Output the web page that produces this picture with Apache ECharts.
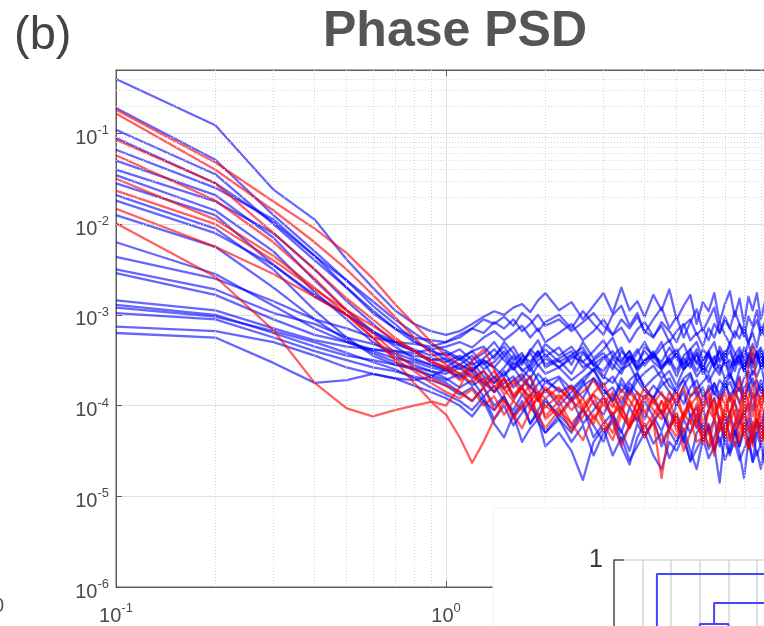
<!DOCTYPE html>
<html>
<head>
<meta charset="utf-8">
<title>Phase PSD</title>
<script src="https://cdn.jsdelivr.net/npm/echarts@6/dist/echarts.min.js"></script>
<style>
  html, body { margin: 0; padding: 0; background: #fff; overflow: hidden; }
  /* the panel is wider/taller than the window: the reference is a crop */
  #chart { width: 900px; height: 800px; }
</style>
</head>
<body>
<div id="chart"></div>
<script>
// frequency bins (Hz)
const freqs = [0.1, 0.2, 0.3, 0.4, 0.5, 0.6, 0.7, 0.8, 0.9, 1.0,
  1.1, 1.2, 1.3, 1.4, 1.5, 1.6, 1.7, 1.8, 1.9, 2.0,
  2.2, 2.4, 2.6, 2.8, 3.0, 3.2, 3.4, 3.6, 3.8, 4.0,
  4.25, 4.5, 4.75, 5.0, 5.25, 5.5, 5.75, 6.0, 6.25, 6.5, 6.75, 7.0, 7.25, 7.5, 7.75, 8.0,
  8.25, 8.5, 8.75, 9.0, 9.25, 9.5, 9.75, 10.0];

// PSD curves as log10(value)
const blue01 = [-0.40, -0.91, -1.62, -1.95, -2.39, -2.70, -2.95, -3.10, -3.18, -3.22,
  -3.18, -3.10, -3.02, -2.96, -3.00, -2.92, -2.88, -2.97, -2.84, -2.76,
  -2.95, -2.86, -3.05, -2.90, -2.76, -2.98, -2.70, -2.95, -2.85, -3.02,
  -2.78, -2.95, -2.72, -3.05, -2.90, -2.78, -3.10, -2.86, -2.96, -2.76, -3.08, -2.88, -2.74, -3.02, -2.82, -3.10, -2.80, -2.95, -2.76, -3.05, -2.86, -2.78, -3.00, -2.88];
const blue02 = [-0.72, -1.29, -1.90, -2.30, -2.62, -2.90, -3.10, -3.28, -3.40, -3.45,
  -3.38, -3.50, -3.42, -3.30, -3.45, -3.35, -3.52, -3.40, -3.28, -3.46,
  -3.36, -3.55, -3.30, -3.48, -3.38, -3.25, -3.50, -3.40, -3.58, -3.35,
  -3.45, -3.30, -3.55, -3.42, -3.32, -3.50, -3.38, -3.60, -3.40, -3.30, -3.52, -3.44, -3.34, -3.56, -3.40, -3.48, -3.30, -3.52, -3.42, -3.36, -3.58, -3.44, -3.32, -3.50];
const blue03 = [-0.96, -1.45, -2.00, -2.40, -2.70, -2.95, -3.15, -3.30, -3.38, -3.50,
  -3.60, -3.52, -3.68, -3.75, -3.62, -3.80, -3.70, -3.58, -3.72, -3.85,
  -3.70, -3.92, -3.75, -3.60, -3.82, -3.95, -3.70, -3.86, -3.65, -3.80,
  -3.92, -3.72, -3.85, -4.00, -3.78, -3.66, -3.90, -3.80, -4.02, -3.75, -3.88, -3.70, -3.95, -3.82, -3.68, -3.92, -3.78, -4.05, -3.85, -3.72, -3.96, -3.80, -3.90, -3.74];
const blue04 = [-1.18, -1.60, -1.95, -2.35, -2.70, -2.98, -3.15, -3.25, -3.28, -3.30,
  -3.22, -3.15, -3.05, -3.10, -3.02, -3.12, -2.98, -3.05, -3.18, -3.08,
  -3.00, -3.15, -2.96, -3.10, -3.22, -3.00, -2.90, -3.12, -2.98, -3.20,
  -3.05, -2.92, -3.15, -3.02, -3.25, -3.08, -2.94, -3.18, -3.05, -2.92, -3.20, -3.06, -3.15, -2.96, -3.10, -3.24, -3.02, -3.12, -2.95, -3.18, -3.08, -3.00, -3.22, -3.05];
const blue05 = [-1.40, -1.75, -2.10, -2.50, -2.85, -3.10, -3.30, -3.40, -3.52, -3.58,
  -3.48, -3.60, -3.52, -3.70, -3.58, -3.45, -3.62, -3.55, -3.40, -3.58,
  -3.50, -3.65, -3.42, -3.56, -3.70, -3.48, -3.60, -3.45, -3.62, -3.52,
  -3.40, -3.60, -3.50, -3.68, -3.48, -3.58, -3.42, -3.65, -3.54, -3.46, -3.62, -3.50, -3.70, -3.52, -3.44, -3.60, -3.48, -3.66, -3.55, -3.42, -3.60, -3.50, -3.64, -3.46];
const blue06 = [-1.46, -1.85, -2.30, -2.75, -3.05, -3.30, -3.45, -3.55, -3.62, -3.70,
  -3.80, -3.72, -3.90, -3.78, -3.95, -4.05, -3.88, -4.00, -4.15, -3.95,
  -4.10, -3.92, -4.20, -4.05, -3.90, -4.15, -4.30, -4.02, -4.18, -3.95,
  -4.12, -4.28, -4.05, -4.20, -4.40, -4.10, -4.25, -4.02, -4.30, -4.15, -4.45, -4.20, -4.08, -4.32, -4.18, -4.05, -4.28, -4.42, -4.15, -4.25, -4.05, -4.35, -4.18, -4.30];
const blue07 = [-1.55, -1.90, -2.45, -2.80, -3.00, -3.18, -3.30, -3.38, -3.45, -3.42,
  -3.50, -3.40, -3.35, -3.48, -3.30, -3.42, -3.55, -3.38, -3.46, -3.32,
  -3.45, -3.35, -3.52, -3.40, -3.28, -3.46, -3.36, -3.55, -3.42, -3.30,
  -3.48, -3.36, -3.28, -3.45, -3.55, -3.38, -3.30, -3.50, -3.40, -3.58, -3.35, -3.46, -3.30, -3.42, -3.55, -3.36, -3.48, -3.32, -3.44, -3.56, -3.38, -3.50, -3.34, -3.46];
const blue08 = [-1.68, -2.05, -2.50, -2.95, -3.25, -3.45, -3.55, -3.60, -3.68, -3.75,
  -3.85, -3.95, -3.80, -4.00, -3.90, -4.10, -3.95, -4.20, -4.05, -3.92,
  -4.15, -4.30, -4.05, -4.22, -4.40, -4.10, -4.28, -4.50, -4.20, -4.35,
  -4.15, -4.45, -4.25, -4.10, -4.38, -4.60, -4.30, -4.20, -4.48, -4.35, -4.15, -4.40, -4.55, -4.28, -4.45, -4.20, -4.38, -4.62, -4.30, -4.45, -4.22, -4.50, -4.35, -4.25];
const blue09 = [-1.74, -2.10, -2.45, -2.78, -3.00, -3.20, -3.32, -3.40, -3.50, -3.48,
  -3.55, -3.62, -3.50, -3.58, -3.68, -3.52, -3.60, -3.70, -3.55, -3.65,
  -3.58, -3.72, -3.62, -3.50, -3.68, -3.75, -3.60, -3.55, -3.72, -3.64,
  -3.56, -3.70, -3.62, -3.78, -3.60, -3.52, -3.68, -3.58, -3.74, -3.62, -3.55, -3.70, -3.64, -3.80, -3.60, -3.54, -3.72, -3.62, -3.68, -3.56, -3.74, -3.62, -3.58, -3.70];
const blue10 = [-2.36, -2.60, -2.85, -3.05, -3.15, -3.25, -3.30, -3.32, -3.35, -3.30,
  -3.25, -3.15, -3.20, -3.08, -3.15, -3.05, -3.18, -3.10, -3.00, -3.12,
  -3.05, -3.18, -3.08, -2.98, -3.12, -3.22, -3.05, -3.15, -3.02, -3.18,
  -3.25, -3.08, -3.18, -3.30, -3.12, -3.05, -3.22, -3.15, -3.28, -3.10, -3.20, -3.02, -3.15, -3.25, -3.10, -3.20, -3.32, -3.15, -3.06, -3.22, -3.12, -3.28, -3.18, -3.08];
const blue11 = [-2.50, -2.72, -2.98, -3.10, -3.25, -3.32, -3.40, -3.45, -3.48, -3.52,
  -3.45, -3.55, -3.48, -3.38, -3.50, -3.60, -3.45, -3.52, -3.40, -3.55,
  -3.48, -3.40, -3.58, -3.50, -3.42, -3.55, -3.65, -3.46, -3.52, -3.40,
  -3.52, -3.60, -3.45, -3.38, -3.55, -3.48, -3.62, -3.50, -3.42, -3.58, -3.66, -3.48, -3.40, -3.55, -3.50, -3.62, -3.45, -3.52, -3.40, -3.58, -3.48, -3.54, -3.62, -3.46];
const blue12 = [-2.54, -2.78, -3.05, -3.22, -3.30, -3.38, -3.42, -3.50, -3.55, -3.60,
  -3.68, -3.58, -3.75, -3.85, -3.70, -3.92, -3.80, -3.68, -3.95, -3.82,
  -4.00, -3.85, -3.72, -3.98, -4.10, -3.88, -4.05, -3.80, -3.95, -4.15,
  -3.90, -4.08, -4.25, -3.98, -3.85, -4.12, -4.02, -4.30, -4.05, -3.92, -4.18, -4.35, -4.08, -3.95, -4.20, -4.10, -3.98, -4.28, -4.15, -4.40, -4.05, -4.22, -3.96, -4.12];
const blue13 = [-2.84, -2.95, -3.15, -3.28, -3.35, -3.38, -3.40, -3.42, -3.38, -3.35,
  -3.30, -3.36, -3.25, -3.18, -3.28, -3.20, -3.12, -3.25, -3.15, -3.30,
  -3.20, -3.10, -3.28, -3.18, -3.05, -3.22, -3.14, -3.30, -3.16, -3.08,
  -3.24, -3.12, -3.30, -3.18, -3.10, -3.28, -3.20, -3.35, -3.15, -3.25, -3.08, -3.22, -3.32, -3.18, -3.26, -3.12, -3.30, -3.20, -3.36, -3.14, -3.24, -3.32, -3.16, -3.26];
const blue14 = [-2.89, -3.00, -3.20, -3.35, -3.45, -3.50, -3.55, -3.58, -3.62, -3.65,
  -3.58, -3.70, -3.62, -3.75, -3.66, -3.58, -3.72, -3.80, -3.65, -3.74,
  -3.68, -3.82, -3.70, -3.60, -3.78, -3.68, -3.85, -3.72, -3.64, -3.80,
  -3.70, -3.62, -3.78, -3.86, -3.70, -3.64, -3.82, -3.74, -3.66, -3.88, -3.72, -3.80, -3.65, -3.76, -3.84, -3.70, -3.62, -3.78, -3.72, -3.86, -3.68, -3.76, -3.82, -3.70];
const blue15 = [-2.98, -3.05, -3.25, -3.40, -3.50, -3.58, -3.62, -3.68, -3.72, -3.78,
  -3.88, -3.80, -3.95, -4.05, -3.90, -4.12, -4.00, -4.20, -4.08, -4.30,
  -4.15, -4.40, -4.22, -4.55, -4.30, -4.18, -4.45, -4.65, -4.35, -4.20,
  -4.42, -4.30, -4.58, -4.40, -4.25, -4.50, -4.70, -4.38, -4.22, -4.48, -4.35, -4.60, -4.45, -4.28, -4.52, -4.80, -4.40, -4.30, -4.55, -4.42, -4.65, -4.35, -4.50, -4.40];
const blue16 = [-3.13, -3.18, -3.30, -3.45, -3.58, -3.65, -3.70, -3.72, -3.68, -3.60,
  -3.55, -3.62, -3.50, -3.58, -3.45, -3.60, -3.52, -3.42, -3.56, -3.48,
  -3.58, -3.45, -3.52, -3.62, -3.48, -3.40, -3.55, -3.46, -3.60, -3.50,
  -3.42, -3.56, -3.48, -3.62, -3.45, -3.38, -3.52, -3.60, -3.44, -3.55, -3.48, -3.40, -3.58, -3.50, -3.45, -3.62, -3.48, -3.54, -3.42, -3.58, -3.50, -3.46, -3.60, -3.52];
const blue17 = [-3.20, -3.25, -3.53, -3.75, -3.72, -3.65, -3.70, -3.78, -3.85, -3.92,
  -4.00, -4.12, -3.95, -4.20, -4.35, -4.10, -4.40, -4.25, -4.15, -4.45,
  -4.30, -4.50, -4.82, -4.40, -4.25, -4.55, -4.35, -4.60, -4.45, -4.30,
  -4.55, -4.70, -4.40, -4.50, -4.32, -4.62, -4.48, -4.35, -4.58, -4.45, -4.85, -4.30, -4.52, -4.40, -4.60, -4.48, -4.35, -4.62, -4.50, -4.70, -4.42, -4.55, -4.38, -4.50];
const blue18 = [-1.05, -1.55, -1.98, -2.35, -2.62, -2.85, -3.05, -3.20, -3.32, -3.40,
  -3.48, -3.40, -3.55, -3.45, -3.35, -3.50, -3.42, -3.58, -3.45, -3.38,
  -3.52, -3.44, -3.36, -3.55, -3.46, -3.60, -3.40, -3.50, -3.38, -3.56,
  -3.44, -3.52, -3.36, -3.48, -3.60, -3.42, -3.54, -3.38, -3.46, -3.56, -3.40, -3.52, -3.62, -3.44, -3.36, -3.50, -3.58, -3.42, -3.48, -3.38, -3.54, -3.46, -3.40, -3.56];
const blue19 = [-1.90, -2.25, -2.70, -3.05, -3.28, -3.42, -3.52, -3.60, -3.66, -3.72,
  -3.65, -3.78, -3.70, -3.85, -3.75, -3.68, -3.82, -3.90, -3.76, -3.70,
  -3.85, -3.78, -3.92, -3.70, -3.82, -3.95, -3.76, -3.88, -3.72, -3.84,
  -3.92, -3.78, -3.70, -3.86, -3.98, -3.80, -3.72, -3.90, -3.84, -3.76, -3.95, -3.82, -3.74, -3.88, -3.80, -3.96, -3.78, -3.70, -3.86, -3.92, -3.80, -3.74, -3.90, -3.84];
const blue20 = [-2.20, -2.55, -2.90, -3.15, -3.30, -3.40, -3.48, -3.52, -3.58, -3.62,
  -3.55, -3.45, -3.60, -3.52, -3.40, -3.56, -3.48, -3.62, -3.50, -3.44,
  -3.58, -3.48, -3.40, -3.55, -3.62, -3.46, -3.52, -3.40, -3.58, -3.50,
  -3.46, -3.58, -3.50, -3.42, -3.60, -3.52, -3.44, -3.56, -3.64, -3.48, -3.40, -3.55, -3.50, -3.62, -3.46, -3.54, -3.42, -3.58, -3.50, -3.46, -3.60, -3.52, -3.44, -3.56];
const blue21 = [-2.92, -3.02, -3.18, -3.30, -3.42, -3.52, -3.60, -3.70, -3.80, -3.88,
  -3.95, -4.05, -3.90, -4.15, -4.00, -4.22, -4.08, -3.95, -4.18, -4.30,
  -4.10, -4.25, -4.02, -4.35, -4.20, -4.08, -4.40, -4.22, -4.12, -4.32,
  -4.18, -4.05, -4.28, -4.42, -4.15, -4.30, -4.10, -4.38, -4.22, -4.50, -4.25, -4.12, -4.35, -4.20, -4.45, -4.28, -4.15, -4.40, -4.30, -4.18, -4.38, -4.25, -4.45, -4.20];
const blue22 = [-1.30, -1.68, -2.15, -2.62, -2.95, -3.18, -3.35, -3.48, -3.55, -3.60,
  -3.70, -3.62, -3.78, -3.68, -3.82, -3.72, -3.65, -3.80, -3.88, -3.74,
  -3.82, -3.95, -3.78, -3.70, -3.88, -3.80, -3.98, -3.75, -3.86, -3.92,
  -3.78, -3.88, -3.96, -3.80, -3.72, -3.90, -3.84, -4.00, -3.78, -3.86, -3.94, -3.76, -3.88, -3.82, -3.98, -3.80, -3.74, -3.92, -3.86, -3.78, -3.95, -3.84, -3.76, -3.90];

const red01 = [-0.74, -1.32, -1.75, -2.05, -2.32, -2.60, -2.88, -3.10, -3.30, -3.45,
  -3.55, -3.68, -3.75, -3.62, -3.80, -3.72, -3.88, -3.78, -3.92, -3.82,
  -3.95, -3.80, -4.05, -3.88, -3.98, -4.12, -3.90, -4.02, -3.85, -4.08,
  -3.92, -4.10, -3.98, -3.85, -4.15, -4.00, -3.90, -4.18, -4.05, -3.92, -4.20, -4.02, -3.88, -4.12, -4.25, -3.98, -4.08, -3.86, -4.15, -4.02, -3.92, -4.20, -4.05, -3.95];
const red02 = [-0.78, -1.40, -1.85, -2.20, -2.50, -2.78, -3.02, -3.25, -3.42, -3.55,
  -3.65, -3.58, -3.72, -3.85, -3.70, -3.90, -3.80, -3.95, -3.85, -4.02,
  -3.88, -4.05, -3.92, -4.15, -3.98, -3.85, -4.10, -4.22, -3.95, -4.08,
  -4.20, -3.95, -4.05, -4.28, -4.12, -3.98, -4.22, -4.35, -4.05, -4.15, -3.95, -4.30, -4.18, -4.05, -4.40, -4.22, -4.10, -4.32, -4.00, -4.18, -4.42, -4.12, -4.25, -4.08];
const red03 = [-1.07, -1.55, -2.10, -2.50, -2.82, -3.05, -3.25, -3.40, -3.52, -3.60,
  -3.72, -3.65, -3.80, -3.70, -3.88, -3.76, -3.68, -3.85, -3.95, -3.80,
  -3.92, -3.78, -4.00, -3.86, -3.75, -3.98, -4.10, -3.85, -3.96, -3.80,
  -3.95, -4.08, -3.85, -3.96, -4.12, -3.90, -3.80, -4.05, -3.92, -4.15, -3.88, -3.98, -4.10, -3.85, -3.95, -4.18, -3.90, -3.78, -4.02, -3.92, -3.82, -4.08, -3.95, -3.88];
const red04 = [-1.24, -1.74, -2.20, -2.60, -2.95, -3.20, -3.42, -3.58, -3.70, -3.78,
  -3.85, -3.95, -3.80, -4.05, -3.92, -4.15, -4.00, -3.88, -4.12, -4.25,
  -4.05, -4.20, -4.38, -4.10, -4.28, -4.15, -4.45, -4.22, -4.08, -4.35,
  -4.18, -4.40, -4.25, -4.12, -4.50, -4.30, -4.15, -4.42, -4.28, -4.55, -4.20, -4.35, -4.12, -4.45, -4.30, -4.20, -4.48, -4.32, -4.15, -4.40, -4.28, -4.50, -4.22, -4.35];
const red05 = [-1.63, -2.00, -2.40, -2.72, -2.95, -3.12, -3.28, -3.40, -3.50, -3.58,
  -3.65, -3.75, -3.62, -3.80, -3.70, -3.88, -3.78, -3.68, -3.85, -3.92,
  -3.80, -3.95, -3.85, -3.72, -3.90, -4.02, -3.82, -3.94, -4.08, -3.88,
  -3.98, -3.85, -4.05, -3.92, -3.80, -4.00, -4.12, -3.90, -3.82, -4.05, -3.95, -4.15, -3.88, -3.98, -4.08, -3.85, -3.95, -4.12, -3.90, -4.02, -3.80, -3.96, -4.10, -3.92];
const red06 = [-1.83, -2.25, -2.55, -2.80, -3.00, -3.25, -3.50, -3.75, -3.95, -4.00,
  -3.80, -3.50, -3.38, -3.60, -3.82, -3.95, -3.78, -4.05, -3.90, -4.12,
  -3.95, -4.20, -4.05, -3.88, -4.15, -4.30, -4.02, -4.18, -3.95, -4.25,
  -4.10, -3.95, -4.22, -4.35, -4.08, -4.20, -3.98, -4.30, -4.45, -4.15, -4.28, -4.05, -4.38, -4.22, -4.10, -4.32, -4.48, -4.18, -4.25, -4.05, -4.35, -4.20, -4.42, -4.15];
const red07 = [-1.99, -2.58, -3.17, -3.75, -4.03, -4.12, -4.05, -4.00, -3.96, -4.10,
  -4.35, -4.63, -4.40, -4.15, -3.95, -4.10, -4.25, -4.05, -3.90, -4.15,
  -4.02, -4.28, -4.12, -3.95, -4.20, -4.38, -4.10, -4.25, -4.05, -4.32,
  -4.18, -4.80, -4.25, -4.08, -4.30, -4.15, -4.40, -4.35, -4.20, -4.45, -4.12, -4.28, -4.40, -4.18, -4.05, -4.32, -4.22, -4.45, -4.15, -4.30, -4.38, -4.12, -4.25, -4.35];
const red08 = [-1.50, -1.95, -2.35, -2.70, -3.00, -3.25, -3.48, -3.62, -3.75, -3.85,
  -3.92, -3.82, -4.00, -3.90, -4.10, -3.95, -4.05, -3.88, -4.15, -4.00,
  -4.12, -3.95, -4.05, -4.20, -3.92, -4.10, -4.00, -4.25, -4.05, -3.90,
  -4.05, -4.15, -3.92, -4.22, -4.08, -3.95, -4.18, -4.02, -3.88, -4.10, -4.00, -3.85, -4.12, -3.95, -3.70, -4.05, -3.55, -3.35, -3.80, -3.98, -4.10, -3.90, -4.02, -3.95];

const blueLines = [blue01, blue02, blue03, blue04, blue05, blue06, blue07, blue08, blue09, blue10, blue11,
  blue12, blue13, blue14, blue15, blue16, blue17, blue18, blue19, blue20, blue21, blue22];
const redLines = [red01, red02, red03, red04, red05, red06, red07, red08];

// fragment of the neighbouring dendrogram panel (its own x / height units)
const dendroA = [[1.5, 0], [1.5, 0.93], [10, 0.93]];
const dendroB = [[3.5, 0.68], [3.5, 0.785], [10, 0.785]];
const dendroC = [[3, 0], [3, 0.68], [4, 0.68], [4, 0]];

const FONT = '"Liberation Sans", Arial, sans-serif';
const AXIS_COLOR = '#5c5c5c';
const LABEL_COLOR = '#4a4a4a';
const GRID_COLOR = '#e0e0e0';

// 10^n labels, only on whole decades
function powerLabel(v) {
    const e = Math.log10(v);
    const r = Math.round(e);
    if (Math.abs(e - r) > 1e-6) return '';
    return '{b|10}{s|' + r + '}';
}
const powerRich = {
    b: { fontSize: 20, lineHeight: 28, color: LABEL_COLOR, fontFamily: FONT },
    s: { fontSize: 13, lineHeight: 14, color: LABEL_COLOR, fontFamily: FONT, verticalAlign: 'top' }
};

function psdSeries(logs, color, name) {
    logs.length !== freqs.length && console.warn('length mismatch', name, logs.length);
    return {
        name: name,
        type: 'line',
        xAxisIndex: 0,
        yAxisIndex: 0,
        data: logs.map((e, i) => [freqs[i], Math.pow(10, e)]),
        symbol: 'none',
        silent: true,
        clip: true,
        z: 3,
        lineStyle: { color: color, width: 2.3, join: 'round' }
    };
}

// dotted minor grid (2..9 of each decade), like MATLAB's minor grid
const minorLines = [];
for (let e = -6; e < 0; e++) {
    for (let m = 2; m <= 9; m++) {
        const v = m * Math.pow(10, e);
        if (v < 0.5) minorLines.push({ yAxis: v });
    }
}
for (let e = -1; e <= 0; e++) {
    for (let m = 2; m <= 9; m++) minorLines.push({ xAxis: m * Math.pow(10, e) });
}

const series = [{
    type: 'line',
    xAxisIndex: 0,
    yAxisIndex: 0,
    data: [],
    silent: true,
    z: 1,
    markLine: {
        silent: true,
        symbol: ['none', 'none'],
        label: { show: false },
        animation: false,
        lineStyle: { type: [1, 2], color: '#d4d4d4', width: 1 },
        data: minorLines
    }
}];
blueLines.forEach((d, i) => series.push(psdSeries(d, 'rgba(0, 0, 255, 0.6)', 'blue' + (i + 1))));
redLines.forEach((d, i) => series.push(psdSeries(d, 'rgba(255, 0, 0, 0.62)', 'red' + (i + 1))));
[dendroA, dendroB, dendroC].forEach(d => series.push({
    type: 'line',
    xAxisIndex: 2,
    yAxisIndex: 1,
    data: d,
    symbol: 'none',
    silent: true,
    z: 20,
    lineStyle: { color: '#4545ff', width: 2 }
}));

const chart = echarts.init(document.getElementById('chart'), null, { renderer: 'canvas' });

const option = {
    animation: false,
    backgroundColor: '#ffffff',
    grid: [
        { left: 116, top: 70, width: 660, height: 517, show: true, borderColor: AXIS_COLOR, borderWidth: 1 },
        { left: 614, top: 560, width: 350, height: 200 }
    ],
    xAxis: [
        {
            type: 'log', logBase: 10, min: 0.1, max: 10, gridIndex: 0, position: 'bottom',
            axisLine: { show: true, onZero: false, lineStyle: { color: AXIS_COLOR } },
            axisTick: { show: true, inside: true, length: 6, lineStyle: { color: AXIS_COLOR } },
            axisLabel: { formatter: powerLabel, rich: powerRich, margin: 15 },
            splitLine: { show: true, lineStyle: { color: GRID_COLOR } }
        },
        {
            type: 'log', logBase: 10, min: 0.1, max: 10, gridIndex: 0, position: 'top',
            axisLine: { show: true, onZero: false, lineStyle: { color: AXIS_COLOR } },
            axisTick: { show: true, inside: true, length: 6, lineStyle: { color: AXIS_COLOR } },
            axisLabel: { show: false },
            splitLine: { show: false }
        },
        {
            type: 'value', min: 0, max: 10, interval: 1, gridIndex: 1, z: 20,
            axisLine: { show: false },
            axisTick: { show: false },
            axisLabel: { show: false },
            splitLine: { show: true, lineStyle: { color: '#d6d6d6', width: 1.5 } }
        }
    ],
    yAxis: [
        {
            type: 'log', logBase: 10, min: 1e-6, max: 0.5, gridIndex: 0,
            axisLine: { show: true, onZero: false, lineStyle: { color: AXIS_COLOR } },
            axisTick: { show: true, inside: true, length: 6, lineStyle: { color: AXIS_COLOR } },
            axisLabel: { formatter: powerLabel, rich: powerRich, margin: 7, padding: [10, 0, 0, 0] },
            splitLine: { show: true, lineStyle: { color: GRID_COLOR } }
        },
        {
            type: 'value', min: 0, max: 1, interval: 1, gridIndex: 1, z: 20,
            axisLine: { show: true, lineStyle: { color: '#555', width: 1.5 } },
            axisTick: { show: true, inside: true, length: 10, lineStyle: { color: '#555', width: 1.5 } },
            axisLabel: {
                formatter: v => (v === 1 ? '1' : ''),
                fontSize: 25, color: '#3a3a3a', fontFamily: FONT, margin: 11
            },
            splitLine: { show: true, lineStyle: { color: '#d6d6d6', width: 1.5 } }
        }
    ],
    graphic: [
        {
            type: 'text', x: 455, y: 32, z: 5,
            style: { text: 'Phase PSD', font: 'bold 50px ' + FONT, fill: '#555555', align: 'center', verticalAlign: 'middle' }
        },
        {
            type: 'text', x: 14, y: 36, z: 5,
            style: { text: '(b)', font: '47px ' + FONT, fill: '#444444', align: 'left', verticalAlign: 'middle' }
        },
        {
            type: 'text', x: -7, y: 606, z: 5,
            style: { text: '0', font: '20px ' + FONT, fill: '#555555', align: 'left', verticalAlign: 'middle' }
        },
        {
            // white panel of the next subplot lying over this one
            type: 'rect', z: 10,
            shape: { x: 493, y: 508, width: 420, height: 300 },
            style: { fill: '#ffffff', stroke: '#f0f0f0', lineWidth: 1 }
        }
    ],
    series: series
};

try {
    chart.setOption(option, true);
} catch (error) {
    console.error('Error drawing PSD chart:', error);
}
</script>
</body>
</html>
